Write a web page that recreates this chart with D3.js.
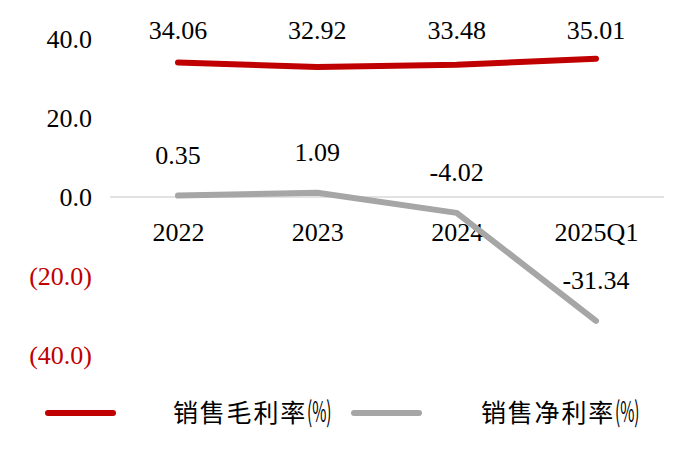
<!DOCTYPE html>
<html><head><meta charset="utf-8">
<script src="https://cdn.jsdelivr.net/npm/d3@7"></script>
<style>body{margin:0;background:#fff}svg{display:block}</style>
</head><body>
<svg id="c" width="700" height="461"></svg>
<script>
const categories = ["2022","2023","2024","2025Q1"];
const grossMargin = [34.06, 32.92, 33.48, 35.01];
const netMargin = [0.35, 1.09, -4.02, -31.34];
const yTicks = [40, 20, 0, -20, -40];
const seriesNames = ["销售毛利率", "销售净利率"];

const svg = d3.select("#c");
const serif = "'Liberation Serif','Times New Roman',serif";
const fs = 26;
const x = d3.scalePoint().domain(categories).range([178, 596]);
const y = d3.scaleLinear().domain([-40, 40]).range([355, 39]);
const red = "#C00000", gray = "#A6A6A6";
const f2 = d => d.toFixed(2);

// y-axis labels
const yAxis = d3.axisLeft(y).tickValues(yTicks).tickSize(0).tickPadding(0)
  .tickFormat(d => d < 0 ? "(" + (-d).toFixed(1) + ")" : d.toFixed(1));
const ya = svg.append("g").attr("transform", "translate(92,0)").call(yAxis);
ya.select(".domain").remove();
ya.selectAll("text").attr("font-family", serif).attr("font-size", fs)
  .attr("fill", d => d < 0 ? red : "#000").attr("dy", "0.32em");

// zero line
svg.append("line").attr("x1", 110).attr("x2", 664)
  .attr("y1", y(0)).attr("y2", y(0)).attr("stroke", "#D9D9D9").attr("stroke-width", 1.5);

// category labels
const xAxis = d3.axisBottom(x).tickSize(0).tickPadding(0);
const xa = svg.append("g").attr("transform", `translate(0,${y(0)+44})`).call(xAxis);
xa.select(".domain").remove();
xa.selectAll("text").attr("font-family", serif).attr("font-size", fs).attr("fill", "#000").attr("dy", "0");

const line = d3.line().x((d, i) => x(categories[i])).y(d => y(d));
svg.append("path").datum(netMargin).attr("d", line).attr("fill", "none")
  .attr("stroke", gray).attr("stroke-width", 6).attr("stroke-linecap", "round").attr("stroke-linejoin", "round");
svg.append("path").datum(grossMargin).attr("d", line).attr("fill", "none")
  .attr("stroke", red).attr("stroke-width", 6).attr("stroke-linecap", "round").attr("stroke-linejoin", "round");

// labels
svg.selectAll(".gl").data(grossMargin).enter().append("text")
  .attr("x", (d, i) => x(categories[i])).attr("y", 39)
  .attr("text-anchor", "middle").attr("font-family", serif).attr("font-size", fs)
  .text(f2);
svg.selectAll(".nl").data(netMargin).enter().append("text")
  .attr("x", (d, i) => x(categories[i])).attr("y", d => y(d) - 32)
  .attr("text-anchor", "middle").attr("font-family", serif).attr("font-size", fs)
  .text(f2);

// legend
const leg = [{name: seriesNames[0], c: red, x1: 48, x2: 113, tx: 173},
             {name: seriesNames[1], c: gray, x1: 354, x2: 419, tx: 481}];
leg.forEach(l => {
  svg.append("line").attr("x1", l.x1).attr("x2", l.x2).attr("y1", 413).attr("y2", 413)
    .attr("stroke", l.c).attr("stroke-width", 6).attr("stroke-linecap", "round");
  svg.append("text").attr("x", l.tx).attr("y", 422)
    .attr("font-family", "'Noto Sans CJK SC',sans-serif").attr("font-size", 25).attr("fill", "#000")
    .attr("letter-spacing", 1.8).text(l.name);
  svg.append("text").attr("transform", `translate(${l.tx + 134},422) scale(0.55,1)`)
    .attr("font-family", "'Noto Sans CJK SC',sans-serif").attr("font-size", 28).attr("fill", "#000")
    .text("(%)");
});
</script>
</body></html>
